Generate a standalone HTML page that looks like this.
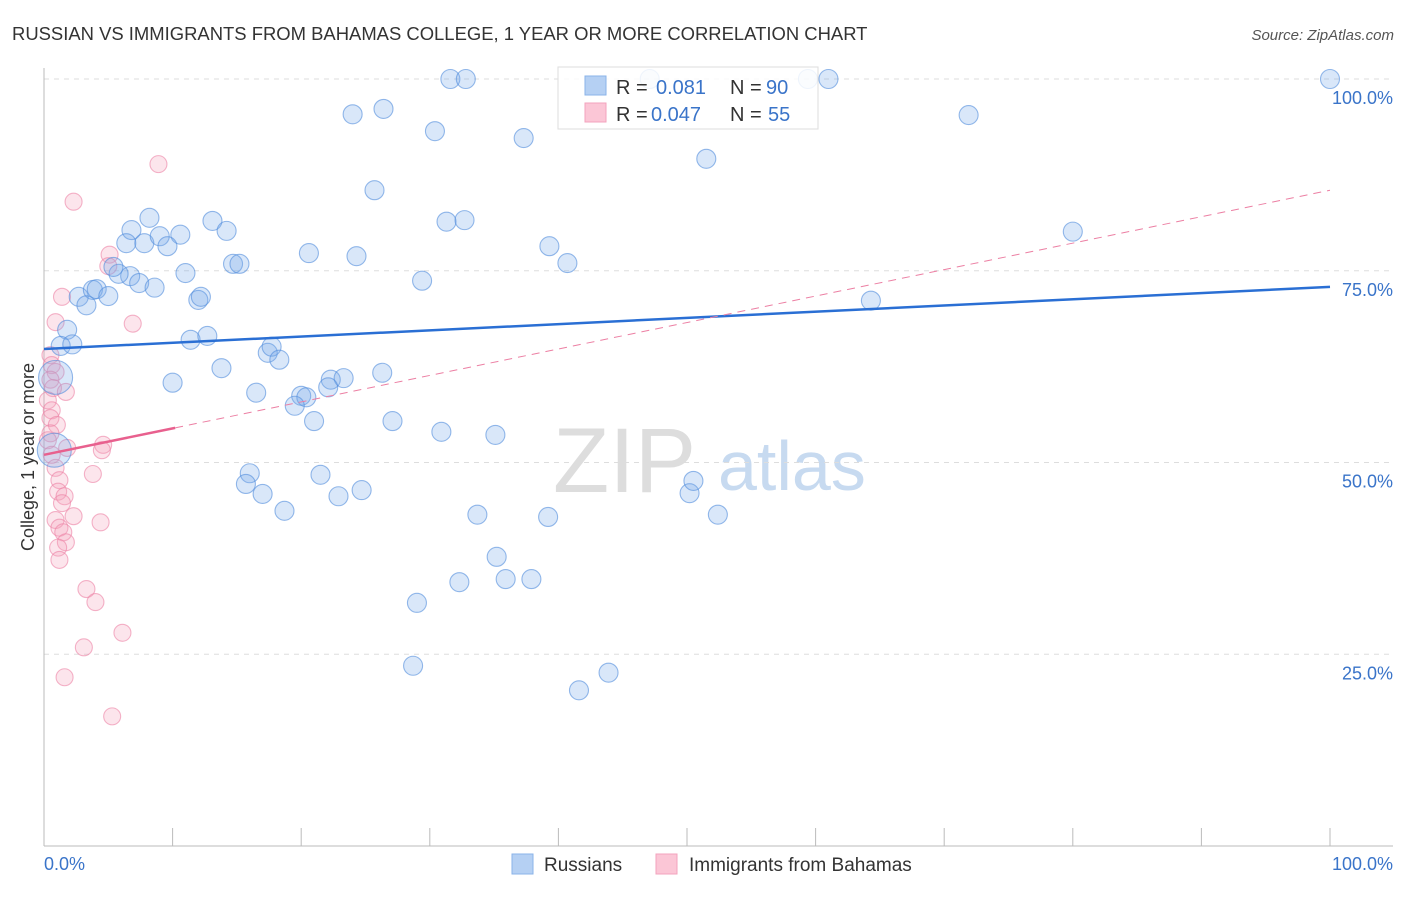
<!DOCTYPE html>
<html><head><meta charset="utf-8"><style>
body{margin:0;background:#fff;font-family:"Liberation Sans",sans-serif;}
svg text{font-family:"Liberation Sans",sans-serif;}
</style></head><body>
<svg id="chart" width="1406" height="892" xmlns="http://www.w3.org/2000/svg">
<text x="12" y="40" font-size="18.45" fill="#333">RUSSIAN VS IMMIGRANTS FROM BAHAMAS COLLEGE, 1 YEAR OR MORE CORRELATION CHART</text>
<text x="1394" y="40" font-size="15" fill="#555" font-style="italic" text-anchor="end">Source: ZipAtlas.com</text>
<text x="34" y="457" font-size="18" fill="#333" text-anchor="middle" transform="rotate(-90 34 457)">College, 1 year or more</text>
<g>
<text x="553" y="492" font-size="92" fill="#ddd" font-family="Liberation Serif,serif">ZIP</text>
<text x="718" y="490" font-size="70" fill="#c7daf0">atlas</text>
</g>
<g id="grid"></g>
<g id="axes"></g>
<g id="pts"></g>
<g id="trends"></g>
<g>
<rect x="558" y="67" width="260" height="62" fill="rgba(255,255,255,0.85)" stroke="#ddd"/>
<rect x="585" y="76" width="21" height="19" fill="#b5d0f3" stroke="#8ab3e8"/>
<rect x="585" y="103" width="21" height="19" fill="#fbc6d6" stroke="#f3a3bd"/>
<text x="616" y="94" font-size="20" fill="#333">R =</text>
<text x="656" y="94" font-size="20" fill="#3a74c9">0.081</text>
<text x="730" y="94" font-size="20" fill="#333">N =</text>
<text x="766" y="94" font-size="20" fill="#3a74c9">90</text>
<text x="616" y="121" font-size="20" fill="#333">R =</text>
<text x="651" y="121" font-size="20" fill="#3a74c9">0.047</text>
<text x="730" y="121" font-size="20" fill="#333">N =</text>
<text x="768" y="121" font-size="20" fill="#3a74c9">55</text>
</g>
<g>
<rect x="512" y="854" width="21" height="20" fill="#b5d0f3" stroke="#8ab3e8"/>
<text x="544" y="871" font-size="19" fill="#333">Russians</text>
<rect x="656" y="854" width="21" height="20" fill="#fbc6d6" stroke="#f3a3bd"/>
<text x="689" y="871" font-size="19" fill="#333">Immigrants from Bahamas</text>
</g>
</svg>
<script>
const blueX=[31.6,32.8,47.1,59.4,61.0,100,24.0,26.4,30.4,37.3,51.5,71.9,25.7,31.3,32.7,80.0,8.2,6.8,6.4,7.8,9.0,10.6,9.6,13.1,14.2,20.6,24.3,39.3,40.7,29.4,64.3,14.7,15.2,11.0,6.7,5.8,5.4,7.4,8.6,2.7,3.8,4.1,3.3,5.0,12.0,12.2,1.8,1.3,2.2,11.4,12.7,17.4,17.7,18.3,13.8,10.0,0.9,16.5,22.3,23.3,22.1,26.3,20.0,20.4,19.5,21.0,27.1,30.9,35.1,0.8,16.0,15.7,17.0,21.5,22.9,24.7,18.7,33.7,39.2,50.2,50.5,52.4,35.2,32.3,35.9,37.9,29.0,28.7,41.6,43.9];
const blueY=[100,100,100,100,100,100,95.4,96.1,93.2,92.3,89.6,95.3,85.5,81.4,81.6,80.1,81.9,80.3,78.6,78.6,79.5,79.7,78.2,81.5,80.2,77.3,76.9,78.2,76.0,73.7,71.1,75.9,75.9,74.7,74.3,74.6,75.5,73.4,72.8,71.6,72.5,72.6,70.5,71.7,71.2,71.6,67.3,65.2,65.4,66.0,66.5,64.3,65.1,63.4,62.3,60.4,61.1,59.1,60.8,61.0,59.8,61.7,58.7,58.5,57.4,55.4,55.4,54.0,53.6,51.6,48.6,47.2,45.9,48.4,45.6,46.4,43.7,43.2,42.9,46.0,47.6,43.2,37.7,34.4,34.8,34.8,31.7,23.5,20.3,22.6];
const pinkX=[8.9,2.3,5.1,5.0,1.4,0.9,6.9,0.5,0.6,0.9,0.5,0.7,1.7,0.3,0.6,0.5,1.0,0.5,0.3,1.8,4.6,4.5,0.6,0.9,3.8,1.2,1.1,1.6,1.4,2.3,0.9,1.2,1.5,1.7,1.1,1.2,3.3,4.0,6.1,3.1,1.6,5.3,4.4];
const pinkY=[88.9,84.0,77.1,75.6,71.6,68.3,68.1,64.0,62.7,61.8,60.8,59.7,59.2,58.1,56.8,55.8,54.9,53.8,52.9,51.9,52.3,51.6,51.0,49.3,48.5,47.7,46.2,45.6,44.7,43.0,42.5,41.5,40.9,39.6,38.9,37.3,33.5,31.8,27.8,25.9,22.0,16.9,42.2];
const bigBlue=[56,69];
const yTicks=[25,50,75,100];
const xTickLabels=["0.0%","100.0%"];
const blueTrend=[64.8,72.9];
const pinkTrend=[51.0,85.5];
const NS="http://www.w3.org/2000/svg";
const X=v=>44+v*12.86, Y=v=>846-v*7.67;
function mk(t,a,p){const e=document.createElementNS(NS,t);for(const k in a)e.setAttribute(k,a[k]);p.appendChild(e);return e;}
const grid=document.getElementById('grid'),axes=document.getElementById('axes'),pts=document.getElementById('pts'),tr=document.getElementById('trends');
yTicks.forEach(v=>{
 const l=mk('line',{x1:44,x2:1393,y1:Y(v),y2:Y(v),stroke:'#ddd','stroke-dasharray':'5,5'},grid);
 
 
 const t=mk('text',{x:1393,y:Y(v)+25,'font-size':18,fill:'#3a74c9','text-anchor':'end'},axes);
 t.textContent=v.toFixed(1)+'%';
 
 
});
mk('line',{x1:44,x2:44,y1:68,y2:846,stroke:'#bbb'},axes);
mk('line',{x1:44,x2:1393,y1:846,y2:846,stroke:'#bbb'},axes);
for(let i=0;i<=10;i++){const tk=mk('line',{x1:X(i*10),x2:X(i*10),y1:828,y2:846,stroke:'#bbb'},axes);
 
 }
const t0=mk('text',{x:44,y:870,'font-size':18,fill:'#3a74c9'},axes);t0.textContent=xTickLabels[0];


const t1=mk('text',{x:1393,y:870,'font-size':18,fill:'#3a74c9','text-anchor':'end'},axes);t1.textContent=xTickLabels[1];


pinkX.forEach((v,i)=>{const c=mk('circle',{cx:X(v),cy:Y(pinkY[i]),r:8.5,fill:'rgba(244,160,188,0.28)',stroke:'rgba(236,130,165,0.6)','stroke-width':1.1},pts);
 
 });
blueX.forEach((v,i)=>{const c=mk('circle',{cx:X(v),cy:Y(blueY[i]),r:bigBlue.includes(i)?17:9.5,fill:'rgba(120,170,235,0.28)',stroke:'rgba(80,140,220,0.6)','stroke-width':1.1},pts);
 
 });
const bl=mk('line',{x1:X(0),y1:Y(blueTrend[0]),x2:X(100),y2:Y(blueTrend[1]),stroke:'#2a6fd4','stroke-width':2.5},tr);


const pY=x=>pinkTrend[0]+(pinkTrend[1]-pinkTrend[0])*x/100;
const pd=mk('line',{x1:X(10.2),y1:Y(pY(10.2)),x2:X(100),y2:Y(pinkTrend[1]),stroke:'#ec7fa3','stroke-width':1,'stroke-dasharray':'8,6'},tr);


const ps=mk('line',{x1:X(0),y1:Y(pinkTrend[0]),x2:X(10.2),y2:Y(pY(10.2)),stroke:'#e8608e','stroke-width':2.5},tr);


</script>
</body></html>
